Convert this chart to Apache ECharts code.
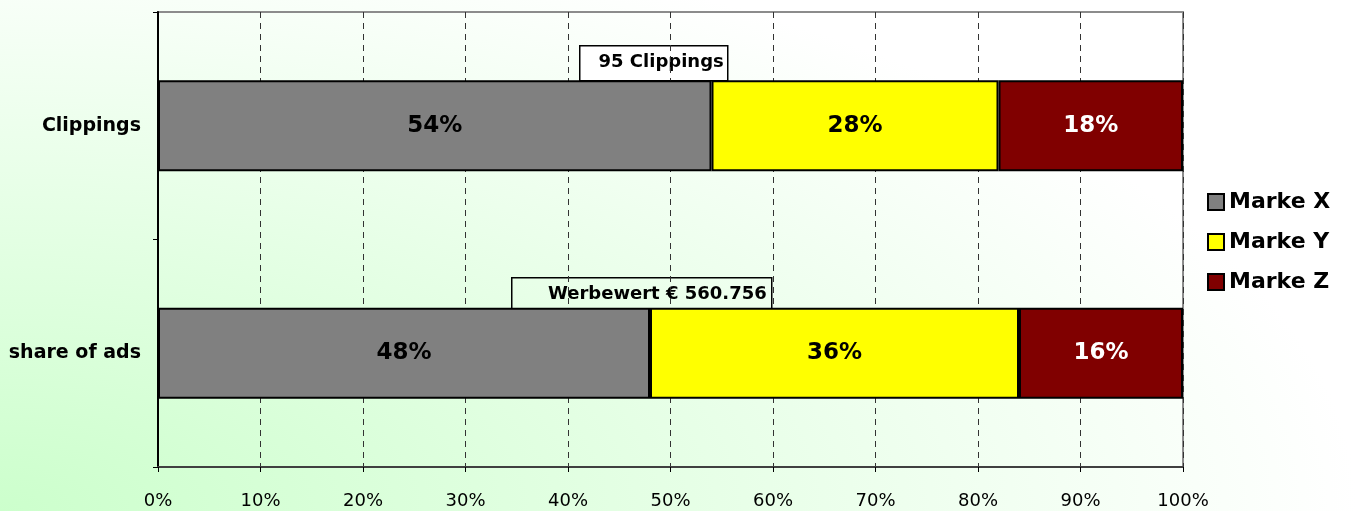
<!DOCTYPE html>
<html>
<head>
<meta charset="utf-8">
<script src="https://cdn.jsdelivr.net/npm/echarts@6/dist/echarts.min.js"></script>
<style>
  html, body { margin: 0; padding: 0; }
  body {
    width: 1357px; height: 511px; overflow: hidden;
    background: radial-gradient(ellipse 1357px 600px at 0% 100%, #ccffcc 0%, #ffffff 100%);
  }
  #chart { width: 1357px; height: 511px; }
</style>
</head>
<body>
<div id="chart"></div>
<script>
const categories = ['share of ads', 'Clippings'];
const seriesNames = ['Marke X', 'Marke Y', 'Marke Z'];
const markeX = [48, 54];
const markeY = [36, 28];
const markeZ = [16, 18];
const xTicks = [0, 10, 20, 30, 40, 50, 60, 70, 80, 90, 100];
const annotations = ['95 Clippings', 'Werbewert € 560.756'];

const FONT = 'DejaVu Sans';
const colors = ['#808080', '#ffff00', '#800000'];
const labelColors = ['#000000', '#000000', '#ffffff'];
const values = [markeX, markeY, markeZ];

const chart = echarts.init(document.getElementById('chart'), null, { renderer: 'canvas' });

const series = seriesNames.map((name, i) => ({
  name: name,
  type: 'bar',
  stack: 'total',
  barWidth: '40%',
  data: values[i],
  itemStyle: { color: colors[i], borderColor: '#000', borderWidth: 2 },
  label: {
    show: true,
    position: 'inside',
    formatter: '{c}%',
    color: labelColors[i],
    fontFamily: FONT,
    fontWeight: 'bold',
    fontSize: 23
  },
  emphasis: { disabled: true }
}));

const option = {
  backgroundColor: 'transparent',
  animation: false,
  grid: {
    left: 158, right: 174, top: 12, bottom: 44,
    show: true, borderColor: '#8c8c8c', borderWidth: 2, backgroundColor: 'transparent'
  },
  legend: {
    orient: 'vertical',
    left: 1202,
    top: 185,
    itemWidth: 16,
    itemHeight: 16,
    itemGap: 16,
    icon: 'rect',
    data: seriesNames,
    textStyle: { fontFamily: FONT, fontWeight: 'bold', fontSize: 22, color: '#000', lineHeight: 24 }
  },
  xAxis: {
    type: 'value',
    min: xTicks[0],
    max: xTicks[xTicks.length - 1],
    interval: 10,
    axisLine: { show: true, lineStyle: { color: '#404040', width: 2 } },
    axisTick: { show: true, length: 5, lineStyle: { color: '#000', width: 1 } },
    axisLabel: { formatter: '{value}%', fontFamily: FONT, fontSize: 18, color: '#000', margin: 25 },
    splitLine: { show: true, lineStyle: { color: '#333', width: 1, type: [6, 5] } }
  },
  yAxis: {
    type: 'category',
    data: categories,
    axisLine: { show: true, lineStyle: { color: '#000', width: 2 } },
    axisTick: { show: true, length: 5, lineStyle: { color: '#000', width: 1 } },
    axisLabel: { fontFamily: FONT, fontWeight: 'bold', fontSize: 19, color: '#000', margin: 17 },
    splitLine: { show: false }
  },
  series: series,
  graphic: [
    {
      type: 'group', left: 579, top: 45,
      children: [
        { type: 'rect', shape: { x: 0, y: 0, width: 148, height: 35 }, style: { fill: '#ffffff', stroke: '#000', lineWidth: 1.5 } },
        { type: 'text', x: 144, y: 17, style: { text: annotations[0], fill: '#000', font: 'bold 18px "' + FONT + '"', align: 'right', verticalAlign: 'middle' } }
      ]
    },
    {
      type: 'group', left: 511, top: 277,
      children: [
        { type: 'rect', shape: { x: 0, y: 0, width: 260, height: 36 }, style: { fill: 'transparent', stroke: '#000', lineWidth: 1.5 } },
        { type: 'text', x: 255, y: 17, style: { text: annotations[1], fill: '#000', font: 'bold 18px "' + FONT + '"', align: 'right', verticalAlign: 'middle' } }
      ]
    }
  ]
};

chart.setOption(option);
</script>
</body>
</html>
